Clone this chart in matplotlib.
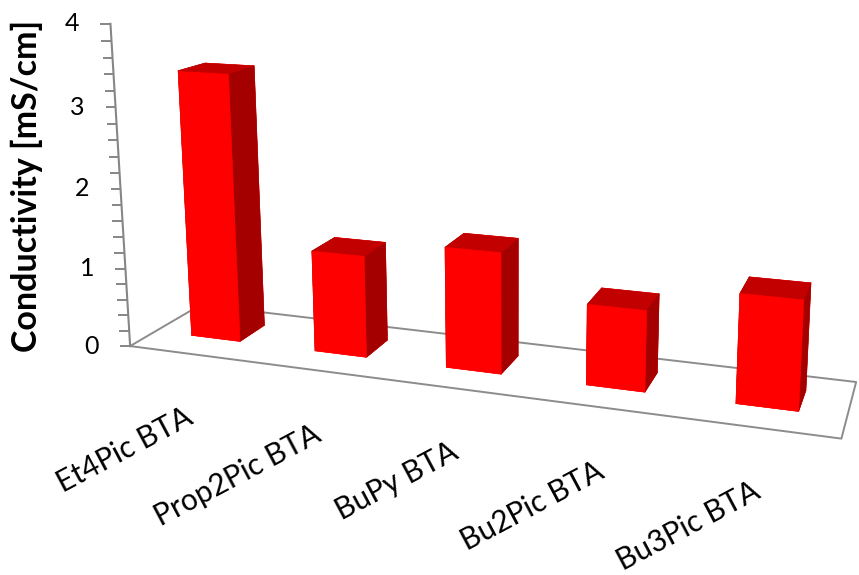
import numpy as np
import matplotlib
matplotlib.use('Agg')
import matplotlib.pyplot as plt
from matplotlib.transforms import ScaledTranslation
from mpl_toolkits.mplot3d import proj3d

plt.rcParams['font.family'] = ['Lato', 'DejaVu Sans']

# conductivity of the ionic liquids (mS/cm)
categories = ['Et4Pic BTA', 'Prop2Pic BTA', 'BuPy BTA', 'Bu2Pic BTA', 'Bu3Pic BTA']
conductivity = [3.38, 1.27, 1.48, 0.97, 1.28]
value_ticks = [0, 1, 2, 3, 4]
minor_step = 0.2

n = len(categories)

fig = plt.figure(figsize=(8.59, 5.75), dpi=100)
ax = fig.add_axes([0.0408, -0.0835, 1.0822, 1.6167], projection='3d',
                  computed_zorder=False)
ax.set_proj_type('persp', focal_length=0.2803)
ax.view_init(elev=12.3, azim=-71.4)
ax.set_xlim(-0.5, 4.964)
ax.set_ylim(0, 1)
ax.set_zlim(0, 5.382)
ax.set_box_aspect((1.501, 0.264, 0.8584))
ax.set_axis_off()

# floor outline
ax.plot([-0.5, 4.5, 4.5, -0.5, -0.5], [0, 0, 1, 1, 0], [0, 0, 0, 0, 0],
        color='#8c8c8c', lw=1.4, zorder=1)

# columns: bottom, top, front, back, left, right
face_colors = ['#ff0000', '#c20000', '#ff0000', '#ff0000', '#a40000', '#a40000']
ax.bar3d(np.arange(n) - 0.2, np.full(n, 0.35), np.zeros(n), 0.4, 0.38,
         conductivity, color=face_colors * n, shade=False,
         edgecolor=face_colors * n, linewidth=0.4, zorder=2)

# value axis with ticks
ax.plot([-0.5, -0.5], [0, 0], [0, value_ticks[-1]], color='#868686', lw=1.5, zorder=3)
ticks = np.arange(0, value_ticks[-1] + 1e-9, minor_step)
ax.plot(np.full(len(ticks), -0.5), np.zeros(len(ticks)), ticks, ls='none',
        marker=0, ms=7, mew=1.4, color='#868686', zorder=3)

M = ax.get_proj()

# tick labels left of the axis
tx, ty, _ = proj3d.proj_transform(np.full(len(value_ticks), -0.5),
                                  np.zeros(len(value_ticks)),
                                  np.array(value_ticks, dtype=float), M)
shift_left = ScaledTranslation(-0.31, 0, fig.dpi_scale_trans)
for v, x2, y2 in zip(value_ticks, tx, ty):
    ax.text2D(x2, y2, str(v), transform=ax.transData + shift_left,
              ha='right', va='center', fontsize=18, color='black')

# category labels under the floor
cx, cy, _ = proj3d.proj_transform(np.arange(n, dtype=float), np.zeros(n),
                                  np.zeros(n), M)
shift_down = ScaledTranslation(-0.07, -0.49, fig.dpi_scale_trans)
for name, x2, y2 in zip(categories, cx, cy):
    ax.text2D(x2, y2, name, transform=ax.transData + shift_down,
              ha='right', va='top', rotation=28, rotation_mode='anchor',
              fontsize=21.5, color='black')

fig.text(27 / 859, 1 - 186 / 575, 'Conductivity [mS/cm]', rotation=90,
         ha='center', va='center', fontsize=24.5, fontweight='bold')

fig.savefig('out.png', dpi=100, facecolor='white')
